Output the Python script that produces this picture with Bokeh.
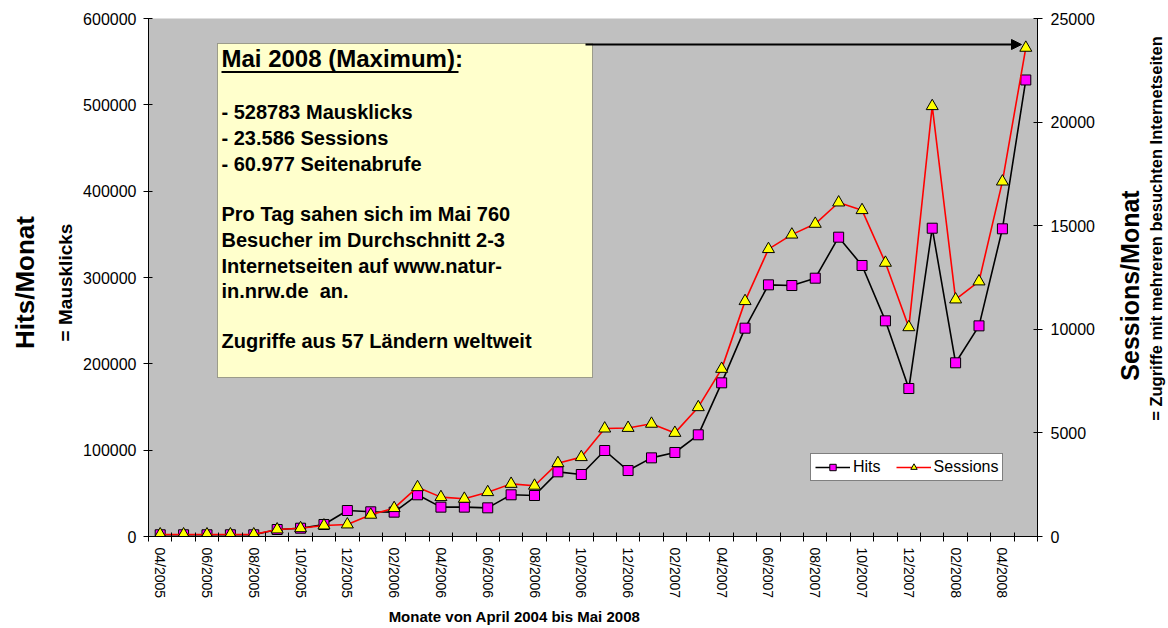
import math
from bokeh.plotting import figure
from bokeh.layouts import row
from bokeh.models import (Range1d, LinearAxis, FixedTicker, Label, BoxAnnotation,
                          Arrow, NormalHead, Legend, LegendItem, NumeralTickFormatter)
from bokeh.embed import file_html
from bokeh.resources import INLINE

# ---------------- data ----------------
months = ["04/2005", "05/2005", "06/2005", "07/2005", "08/2005", "09/2005", "10/2005",
          "11/2005", "12/2005", "01/2006", "02/2006", "03/2006", "04/2006", "05/2006",
          "06/2006", "07/2006", "08/2006", "09/2006", "10/2006", "11/2006", "12/2006",
          "01/2007", "02/2007", "03/2007", "04/2007", "05/2007", "06/2007", "07/2007",
          "08/2007", "09/2007", "10/2007", "11/2007", "12/2007", "01/2008", "02/2008",
          "03/2008", "04/2008", "05/2008"]
hits = [2000, 2000, 2000, 2000, 2000, 8100, 9600, 13900, 30100, 28600, 28200, 48300,
        34000, 34000, 33200, 48300, 47500, 74900, 71800, 99600, 76400, 91100, 97300,
        117800, 178000, 241300, 291500, 290700, 299200, 346700, 313900, 249800, 171400,
        357100, 201200, 244000, 356400, 528783]
sessions = [100, 100, 100, 100, 100, 340, 400, 530, 580, 1050, 1370, 2380, 1900, 1820,
            2140, 2540, 2450, 3540, 3830, 5210, 5240, 5440, 5000, 6240, 8090, 11360,
            13870, 14570, 15090, 16120, 15750, 13210, 10100, 20770, 11440, 12310, 17130,
            23586]
hits_ticks = [0, 100000, 200000, 300000, 400000, 500000, 600000]
sess_ticks = [0, 5000, 10000, 15000, 20000, 25000]

box_title = "Mai 2008 (Maximum):"
box_lines = ["- 528783 Mausklicks", "- 23.586 Sessions", "- 60.977 Seitenabrufe",
             "Pro Tag sahen sich im Mai 760", "Besucher im Durchschnitt 2-3",
             "Internetseiten auf www.natur-", "in.nrw.de\u00a0 an.",
             "Zugriffe aus 57 Ländern weltweit"]

left_titles = [(24, 282, "Hits/Monat", "26px"), (65, 282, "= Mausklicks", "19px")]
right_titles = [(1129, 285, "Sessions/Monat", "25px"),
                (1155, 228, "= Zugriffe mit mehreren besuchten Internetseiten", "16.5px")]
x_title = "Monate von April 2004 bis Mai 2008"

n = len(months)
x = list(range(n))

# ---------------- layout (pixels) ----------------
W, H = 1168, 628
WL = 78                        # left companion figure (left titles)
WR = 1103                      # right edge of the main chart
FL, FR, FT, FB = 148, 1037, 18, 536
FONT = "Liberation Sans"


def dx(px):
    return -0.5 + (px - FL) * n / (FR - FL)


def dy(py):
    return (FB - py) * hits_ticks[-1] / (FB - FT)


p = figure(width=WR - WL, height=H, output_backend="svg", toolbar_location=None,
           x_range=Range1d(-0.5, n - 0.5), y_range=Range1d(0, hits_ticks[-1]),
           min_border_left=FL - WL, min_border_right=WR - FR,
           min_border_top=FT, min_border_bottom=H - FB)
p.background_fill_color = "#C0C0C0"
p.border_fill_color = "white"
p.outline_line_color = None
p.xgrid.visible = False
p.ygrid.visible = False

# x axis
xa = p.xaxis[0]
xa.ticker = FixedTicker(ticks=[i for i in x if i % 2 == 0],
                        minor_ticks=[i - 0.5 for i in range(n + 1)])
xa.major_label_overrides = {i: months[i] for i in x if i % 2 == 0}
xa.major_label_orientation = -math.pi / 2
xa.major_tick_in = 0
xa.major_tick_out = 0
xa.minor_tick_in = 4
xa.minor_tick_out = 5
xa.minor_tick_line_color = "black"
xa.axis_line_color = "black"
xa.major_label_standoff = 6
xa.major_label_text_font = FONT
xa.major_label_text_font_size = "14px"
xa.major_label_text_color = "black"

# left y axis
ya = p.yaxis[0]
ya.ticker = FixedTicker(ticks=hits_ticks, minor_ticks=[])
ya.formatter = NumeralTickFormatter(format="0")
ya.major_tick_in = 4
ya.major_tick_out = 5
ya.major_tick_line_color = "black"
ya.axis_line_color = "black"
ya.major_label_standoff = 7
ya.major_label_text_font = FONT
ya.major_label_text_font_size = "16px"
ya.major_label_text_color = "black"

# right y axis
p.extra_y_ranges = {"sess": Range1d(0, sess_ticks[-1])}
ya2 = LinearAxis(y_range_name="sess", ticker=FixedTicker(ticks=sess_ticks, minor_ticks=[]),
                 formatter=NumeralTickFormatter(format="0"))
ya2.major_tick_in = 4
ya2.major_tick_out = 5
ya2.major_tick_line_color = "black"
ya2.axis_line_color = "black"
ya2.major_label_standoff = 8
ya2.major_label_text_font = FONT
ya2.major_label_text_font_size = "16px"
ya2.major_label_text_color = "black"
p.add_layout(ya2, "right")

# x-axis title as a single-tick label axis
xt_pos = round(dx(514), 3)
xt = LinearAxis(ticker=FixedTicker(ticks=[xt_pos], minor_ticks=[]))
xt.major_label_overrides = {xt_pos: x_title}
xt.axis_line_color = None
xt.major_tick_line_color = None
xt.minor_tick_line_color = None
xt.major_tick_in = 0
xt.major_tick_out = 0
xt.major_label_standoff = 6
xt.major_label_text_font = FONT
xt.major_label_text_font_size = "15px"
xt.major_label_text_font_style = "bold"
xt.major_label_text_color = "black"
xt.major_label_orientation = "horizontal"
p.add_layout(xt, "below")

# ---------------- text box ----------------
p.add_layout(BoxAnnotation(left=dx(217), right=dx(592), top=dy(43), bottom=dy(377),
                           fill_color="#FFFFCC", fill_alpha=1.0,
                           line_color="black", line_width=1, level="underlay"))


def box_text(t, baseline, size):
    p.add_layout(Label(x=dx(221), y=dy(baseline - 0.35 * size), text=t, text_font=FONT,
                       text_font_size=f"{size}px", text_font_style="bold",
                       text_color="black", text_align="left", text_baseline="middle"))


box_text(box_title, 66, 24)
p.add_layout(BoxAnnotation(left=dx(221), right=dx(458), top=dy(70.5), bottom=dy(72.5),
                           fill_color="black", fill_alpha=1.0, line_color=None))
baselines = [118, 144, 170, 220, 246, 272, 297, 347]
for t, b in zip(box_lines, baselines):
    box_text(t, b, 20)

# arrow
p.add_layout(Arrow(end=NormalHead(size=10, fill_color="black", line_color="black"),
                   x_start=dx(585), y_start=dy(44), x_end=dx(1021), y_end=dy(44),
                   line_color="black", line_width=2))

# ---------------- series ----------------
lh = p.line(x, hits, line_color="black", line_width=1.6)
sh = p.scatter(x, hits, marker="square", size=10, fill_color="#FF00FF",
               line_color="black", line_width=1)
ls = p.line(x, sessions, y_range_name="sess", line_color="red", line_width=1.6)
ss = p.scatter(x, sessions, y_range_name="sess", marker="triangle", size=12,
               fill_color="#FFFF00", line_color="black", line_width=1)

legend = Legend(items=[LegendItem(label="Hits", renderers=[lh, sh]),
                       LegendItem(label="Sessions", renderers=[ls, ss])],
                orientation="horizontal", location=(662, 55),
                label_text_font=FONT, label_text_font_size="16px",
                label_text_color="black",
                glyph_width=35, glyph_height=16, label_standoff=3, spacing=15,
                padding=4, margin=0, border_line_color="black", border_line_width=1,
                background_fill_color="white", background_fill_alpha=1.0)
p.add_layout(legend)


# ---------------- companion figures holding the vertical titles ----------------
def title_panel(x0, x1, titles):
    q = figure(width=x1 - x0, height=H, output_backend="svg", toolbar_location=None,
               x_range=Range1d(x0, x1), y_range=Range1d(FB, FT),
               x_axis_type=None, y_axis_type=None,
               min_border_left=0, min_border_right=0,
               min_border_top=FT, min_border_bottom=H - FB)
    q.outline_line_color = None
    q.background_fill_color = "white"
    q.border_fill_color = "white"
    q.xgrid.visible = False
    q.ygrid.visible = False
    for cx, cy, t, size in titles:
        q.add_layout(Label(x=cx, y=cy, text=t, angle=math.pi / 2, text_font=FONT,
                           text_font_size=size, text_font_style="bold", text_color="black",
                           text_align="center", text_baseline="middle"))
    return q


p0 = title_panel(0, WL, left_titles)
p2 = title_panel(WR, W, right_titles)

layout = row(p0, p, p2, spacing=0)
open("out.html", "w").write(file_html(layout, INLINE))
